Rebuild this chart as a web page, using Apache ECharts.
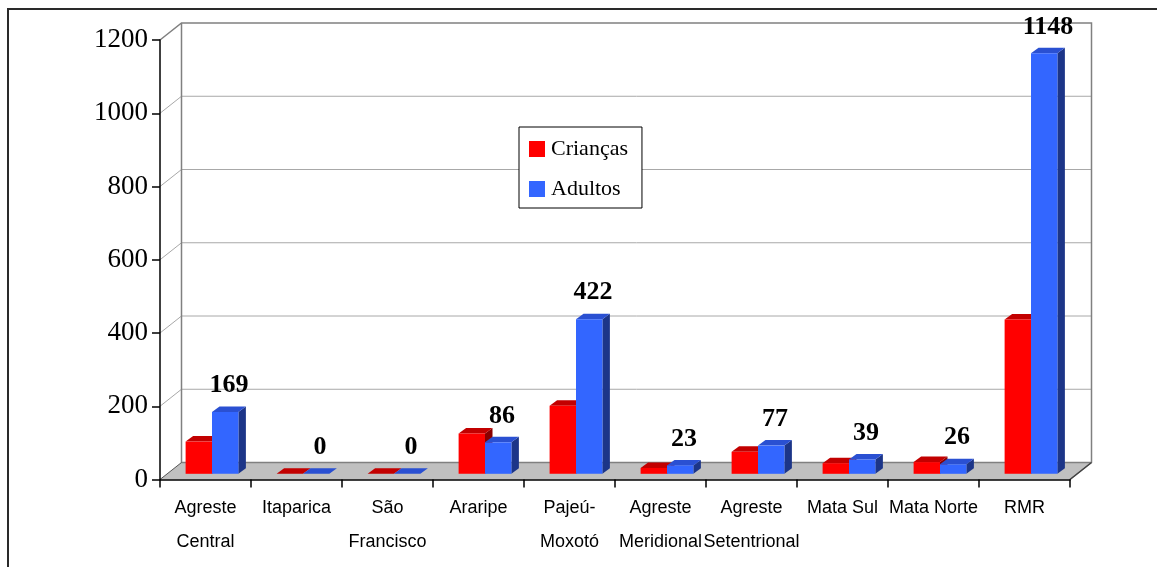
<!DOCTYPE html>
<html>
<head>
<meta charset="utf-8">
<script src="https://cdn.jsdelivr.net/npm/echarts@6/dist/echarts.min.js"></script>
<style>
  html, body { margin: 0; padding: 0; background: #ffffff; }
  #chart { width: 1157px; height: 567px; }
</style>
</head>
<body>
<div id="chart"></div>
<script>
// Regions and attendance counts
const categories = ['Agreste\nCentral', 'Itaparica', 'São\nFrancisco', 'Araripe', 'Pajeú-\nMoxotó',
  'Agreste\nMeridional', 'Agreste\nSetentrional', 'Mata Sul', 'Mata Norte', 'RMR'];
const criancas = [88, 0, 0, 110, 186, 16, 60, 29, 32, 421];
const adultos = [169, 0, 0, 86, 422, 23, 77, 39, 26, 1148];
const yTicks = [0, 200, 400, 600, 800, 1000, 1200];

// Oblique projection offsets (pixels) for the box and the bars
const WALL = { dx: 21.5, dy: -17 };
const BAR_FRONT = { dx: 6.5, dy: -5.7 };
const BAR_DEPTH = { dx: 7.5, dy: -5.5 };
const PAIR_SHARE = 0.58; // part of each category band used by the bar pair

const SERIF = "'Liberation Serif', 'Times New Roman', serif";
const SANS = "'Liberation Sans', Arial, sans-serif";

const RED = { front: '#ff0000', top: '#c20000', side: '#8a0000' };
const BLUE = { front: '#3366ff', top: '#2a50d2', side: '#1c3588' };

// Back wall, floor and gridlines of the pseudo-3D box
function renderFrame(params, api) {
  const cs = params.coordSys;
  const x0 = cs.x, x1 = cs.x + cs.width;
  const bx0 = x0 + WALL.dx, bx1 = x1 + WALL.dx;
  const yBase = api.coord([0, yTicks[0]])[1];
  const yTop = api.coord([0, yTicks[yTicks.length - 1]])[1];
  const children = [];
  children.push({
    type: 'polygon',
    shape: { points: [[x0, yBase], [x1, yBase], [bx1, yBase + WALL.dy], [bx0, yBase + WALL.dy]] },
    style: { fill: '#c0c0c0', stroke: null }
  });
  yTicks.slice(1, -1).forEach(function (v) {
    const y = api.coord([0, v])[1];
    children.push({
      type: 'polyline',
      shape: { points: [[x0, y], [bx0, y + WALL.dy], [bx1, y + WALL.dy]] },
      style: { fill: null, stroke: '#a8a8a8', lineWidth: 1 }
    });
  });
  // wall outline
  children.push({
    type: 'polyline',
    shape: { points: [[x0, yTop], [bx0, yTop + WALL.dy], [bx1, yTop + WALL.dy], [bx1, yBase + WALL.dy], [x1, yBase]] },
    style: { fill: null, stroke: '#808080', lineWidth: 1.5 }
  });
  children.push({
    type: 'polyline',
    shape: { points: [[bx0, yTop + WALL.dy], [bx0, yBase + WALL.dy], [bx1, yBase + WALL.dy]] },
    style: { fill: null, stroke: '#808080', lineWidth: 1.5 }
  });
  children.push({
    type: 'line',
    shape: { x1: x0, y1: yBase, x2: bx0, y2: yBase + WALL.dy },
    style: { stroke: '#555555', lineWidth: 1 }
  });
  children.push({
    type: 'line',
    shape: { x1: x1, y1: yBase, x2: bx1, y2: yBase + WALL.dy },
    style: { stroke: '#404040', lineWidth: 1.2 }
  });
  return { type: 'group', children: children };
}

// One prism per data item; slot 0 = left bar, slot 1 = right bar
function barRenderer(slot, colors, withLabel) {
  return function (params, api) {
    const idx = api.value(0);
    const val = api.value(1);
    const band = api.size([1, 0])[0];
    const w = band * PAIR_SHARE / 2;
    const c = api.coord([idx, val]);
    const b = api.coord([idx, 0]);
    const left = c[0] - band * PAIR_SHARE / 2 + slot * w + BAR_FRONT.dx;
    const right = left + w;
    const top = c[1] + BAR_FRONT.dy;
    const bottom = b[1] + BAR_FRONT.dy;
    const ddx = BAR_DEPTH.dx, ddy = BAR_DEPTH.dy;
    const children = [
      {
        type: 'polygon',
        shape: { points: [[right, top], [right + ddx, top + ddy], [right + ddx, bottom + ddy], [right, bottom]] },
        style: { fill: colors.side, stroke: null }
      },
      {
        type: 'polygon',
        shape: { points: [[left, top], [right, top], [right + ddx, top + ddy], [left + ddx, top + ddy]] },
        style: { fill: colors.top, stroke: null }
      },
      {
        type: 'rect',
        shape: { x: left, y: top, width: w, height: bottom - top },
        style: { fill: colors.front, stroke: null }
      }
    ];
    if (withLabel) {
      children.push({
        type: 'text',
        style: {
          text: String(val),
          x: left + w / 2 + ddx / 2,
          y: top + ddy - 8,
          align: 'center',
          verticalAlign: 'bottom',
          font: 'bold 26px ' + SERIF,
          fill: '#000000'
        },
        z2: 10
      });
    }
    return { type: 'group', children: children };
  };
}

const chart = echarts.init(document.getElementById('chart'), null, { renderer: 'canvas' });

chart.setOption({
  animation: false,
  backgroundColor: '#ffffff',
  graphic: [{
    type: 'rect',
    shape: { x: 8, y: 9, width: 1400, height: 800 },
    style: { fill: null, stroke: '#2a2a2a', lineWidth: 2 },
    silent: true
  }],
  legend: {
    orient: 'vertical',
    left: 519,
    top: 127,
    padding: [11, 14, 8, 10],
    itemGap: 18,
    itemWidth: 16,
    itemHeight: 16,
    backgroundColor: '#ffffff',
    borderColor: '#000000',
    borderWidth: 1,
    borderRadius: 0,
    selectedMode: false,
    textStyle: { fontFamily: SERIF, fontSize: 22, color: '#000000', padding: [0, 0, 0, 1] },
    data: [
      { name: 'Crianças', icon: 'rect', itemStyle: { color: RED.front } },
      { name: 'Adultos', icon: 'rect', itemStyle: { color: BLUE.front } }
    ]
  },
  grid: { left: 160, right: 87, top: 40, bottom: 87.5, containLabel: false },
  xAxis: {
    type: 'category',
    data: categories,
    boundaryGap: true,
    axisLine: { lineStyle: { color: '#000000', width: 1.5 } },
    axisTick: { show: true, length: 8, lineStyle: { color: '#000000', width: 1.5 } },
    axisLabel: {
      interval: 0,
      margin: 12,
      fontFamily: SANS,
      fontSize: 18,
      lineHeight: 34,
      color: '#000000'
    },
    splitLine: { show: false },
    z: 3
  },
  yAxis: {
    type: 'value',
    min: yTicks[0],
    max: yTicks[yTicks.length - 1],
    interval: yTicks[1] - yTicks[0],
    axisLine: { show: true, lineStyle: { color: '#000000', width: 1.5 } },
    axisTick: { show: true, length: 8, lineStyle: { color: '#000000', width: 1.5 } },
    axisLabel: {
      margin: 12,
      fontFamily: SERIF,
      fontSize: 27,
      color: '#000000',
      formatter: function (v) { return String(v); }
    },
    splitLine: { show: false },
    z: 3
  },
  series: [
    {
      type: 'custom',
      name: 'frame',
      z: -5,
      silent: true,
      renderItem: renderFrame,
      data: [[0, 0]],
      tooltip: { show: false }
    },
    {
      type: 'custom',
      name: 'Crianças',
      z: 2,
      itemStyle: { color: RED.front },
      renderItem: barRenderer(0, RED, false),
      data: criancas.map(function (v, i) { return [i, v]; })
    },
    {
      type: 'custom',
      name: 'Adultos',
      z: 2,
      itemStyle: { color: BLUE.front },
      renderItem: barRenderer(1, BLUE, true),
      data: adultos.map(function (v, i) { return [i, v]; })
    }
  ]
});
</script>
</body>
</html>
